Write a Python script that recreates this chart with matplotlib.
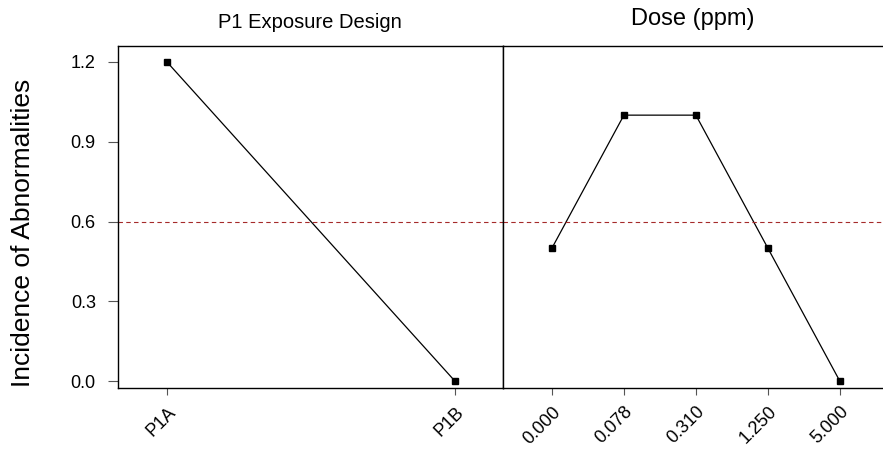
import matplotlib
matplotlib.use("Agg")
import matplotlib.pyplot as plt

plt.rcParams["font.family"] = ["Liberation Sans", "DejaVu Sans"]

# main effects for incidence of abnormalities
design_levels = ["P1A", "P1B"]
design_means = [1.2, 0.0]

dose_levels = ["0.000", "0.078", "0.310", "1.250", "5.000"]
dose_means = [0.5, 1.0, 1.0, 0.5, 0.0]

grand_mean = 0.6
y_ticks = [0.0, 0.3, 0.6, 0.9, 1.2]

fig = plt.figure(figsize=(8.83, 4.5), dpi=100)
ax1 = fig.add_axes([118/883, 1-388/450, 385/883, 342/450])
ax2 = fig.add_axes([503/883, 1-388/450, 380/883, 342/450], sharey=ax1)

ax1.plot(range(len(design_levels)), design_means, color="black", lw=0.9,
         marker="s", ms=4.5)
ax2.plot(range(len(dose_levels)), dose_means, color="black", lw=0.9,
         marker="s", ms=4.5)

for ax in (ax1, ax2):
    ax.axhline(grand_mean, color="#a52a2a", lw=0.8, ls=(0, (4, 3)))
    for s in ax.spines.values():
        s.set_linewidth(1.0)
    ax.tick_params(axis="both", direction="out", color="#555555", labelsize=13)
    ax.tick_params(axis="x", length=5, pad=6)
    ax.tick_params(axis="y", length=7, pad=9)

ax1.set_xticks(range(len(design_levels)))
ax1.set_xticklabels(design_levels, rotation=45, ha="right", rotation_mode="anchor")
ax1.set_xlim(-0.17, 1.167)
ax1.set_ylim(-0.026, 1.26)
ax1.set_yticks(y_ticks)
ax1.set_yticklabels([f"{v:.1f}" for v in y_ticks])

ax2.set_xticks(range(len(dose_levels)))
ax2.set_xticklabels(dose_levels, rotation=45, ha="right", rotation_mode="anchor")
ax2.set_xlim(-0.68, 4.6)
ax2.spines["right"].set_visible(False)
ax2.tick_params(axis="y", left=False, labelleft=False)

# panel headings and shared y label
fig.text(310/883, 1-28/450, "P1 Exposure Design", fontsize=14.5,
         ha="center", va="baseline")
fig.text(693/883, 1-25/450, "Dose (ppm)", fontsize=17,
         ha="center", va="baseline")
fig.text(23/883, 1-233/450, "Incidence of Abnormalities", fontsize=19,
         rotation=90, ha="center", va="center")

fig.savefig("out.png", dpi=100)
